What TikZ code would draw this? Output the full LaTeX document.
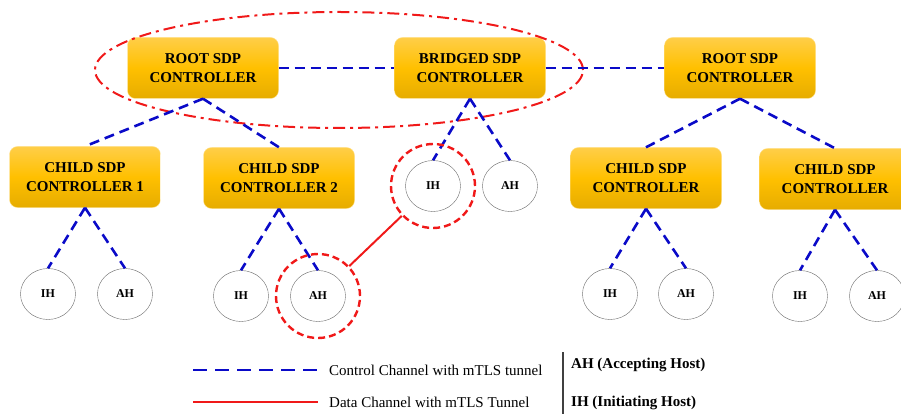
\documentclass[tikz,border=0pt]{standalone}
\usepackage{fontspec}
\setmainfont{Liberation Serif}
\usetikzlibrary{shapes.geometric,positioning}
\definecolor{ctlblue}{RGB}{10,10,200}
\definecolor{tunred}{RGB}{240,25,25}
\definecolor{goldtop}{RGB}{255,206,72}
\definecolor{goldmid}{RGB}{255,192,0}
\definecolor{goldbot}{RGB}{230,172,0}
\tikzset{
  sdp/.style={rectangle, rounded corners=8pt, draw=goldtop!60!white, top color=goldtop, bottom color=goldbot, middle color=goldmid, minimum width=151pt, minimum height=61pt, inner sep=2pt, align=center, font=\fontsize{15}{19}\selectfont\bfseries},
  host/.style={draw=gray!85!black, ellipse, minimum width=55pt, minimum height=51pt, inner sep=0pt, fill=white, font=\fontsize{12}{14}\selectfont\bfseries},
  ctl/.style={draw=ctlblue, line width=2.6pt, dash pattern=on 10pt off 6pt},
  dat/.style={draw=tunred, line width=2pt},
  ring/.style={draw=tunred, circle, line width=2.4pt, dash pattern=on 7pt off 4pt, minimum size=84pt, inner sep=0pt},
  zone/.style={draw=tunred, ellipse, line width=2pt, dash pattern=on 12pt off 5pt on 3pt off 5pt, inner sep=0pt},
  legtxt/.style={font=\fontsize{15}{17}\selectfont, anchor=west, inner sep=0pt},
  legkey/.style={font=\fontsize{15}{17}\selectfont\bfseries, anchor=west, inner sep=0pt},
}

\begin{document}
\begin{tikzpicture}[x=1pt,y=-1pt]
\clip (0,0) rectangle (901,414);
% controllers
\foreach \n/\t/\x/\y in {root1/{ROOT SDP\\CONTROLLER}/203/68, bridge/{BRIDGED SDP\\CONTROLLER}/470/68, root2/{ROOT SDP\\CONTROLLER}/740/68,
  child1/{CHILD SDP\\CONTROLLER 1}/85/177, child2/{CHILD SDP\\CONTROLLER 2}/279/178, child3/{CHILD SDP\\CONTROLLER}/646/178, child4/{CHILD SDP\\CONTROLLER}/835/179} {
  \node[sdp] (\n) at (\x,\y) {\t};
}
\node[zone, minimum width=488pt, minimum height=116pt] (grp) at (339,70) {};
% hosts
\foreach \n/\t/\x/\y in {ih1/IH/48/294, ah1/AH/125/294, ih2/IH/241/296, ah2/AH/318/296, ihb/IH/433/186, ahb/AH/510/186,
  ih3/IH/610/294, ah3/AH/686/294, ih4/IH/800/296, ah4/AH/877/296} {
  \node[host] (\n) at (\x,\y) {\t};
}
% control channels
\draw[ctl] (root1) -- (bridge);
\draw[ctl] (bridge) -- (root2);
\foreach \a/\b in {root1/child1, root1/child2, bridge/ihb, bridge/ahb, root2/child3, root2/child4,
  child1/ih1, child1/ah1, child2/ih2, child2/ah2, child3/ih3, child3/ah3, child4/ih4, child4/ah4} {
  \draw[ctl] (\a.south) -- (\b.north);
}
% data tunnel
\node[ring] (ringa) at (ah2) {};
\node[ring] (ringb) at (ihb) {};
\draw[dat] (ringa) -- (ringb);
% legend
\coordinate (lc0) at (193,370); \coordinate (lc1) at (318,370);
\coordinate (ld0) at (193,402); \coordinate (ld1) at (318,402);
\draw[ctl, line width=2.4pt, dash pattern=on 14pt off 8pt] (lc0) -- (lc1);
\draw[dat, line width=2.4pt] (ld0) -- (ld1);
\node[legtxt, right=11pt of lc1] (lct) {Control Channel with mTLS tunnel};
\node[legtxt, right=11pt of ld1] (ldt) {Data Channel with mTLS Tunnel};
\coordinate (sep0) at (563,352); \coordinate (sep1) at (563,414);
\draw[black!75, line width=1.6pt] (sep0) -- (sep1);
\node[legkey] (kah) at (571,365) {AH (Accepting Host)};
\node[legkey] (kih) at (571,403) {IH (Initiating Host)};
\end{tikzpicture}
\end{document}
